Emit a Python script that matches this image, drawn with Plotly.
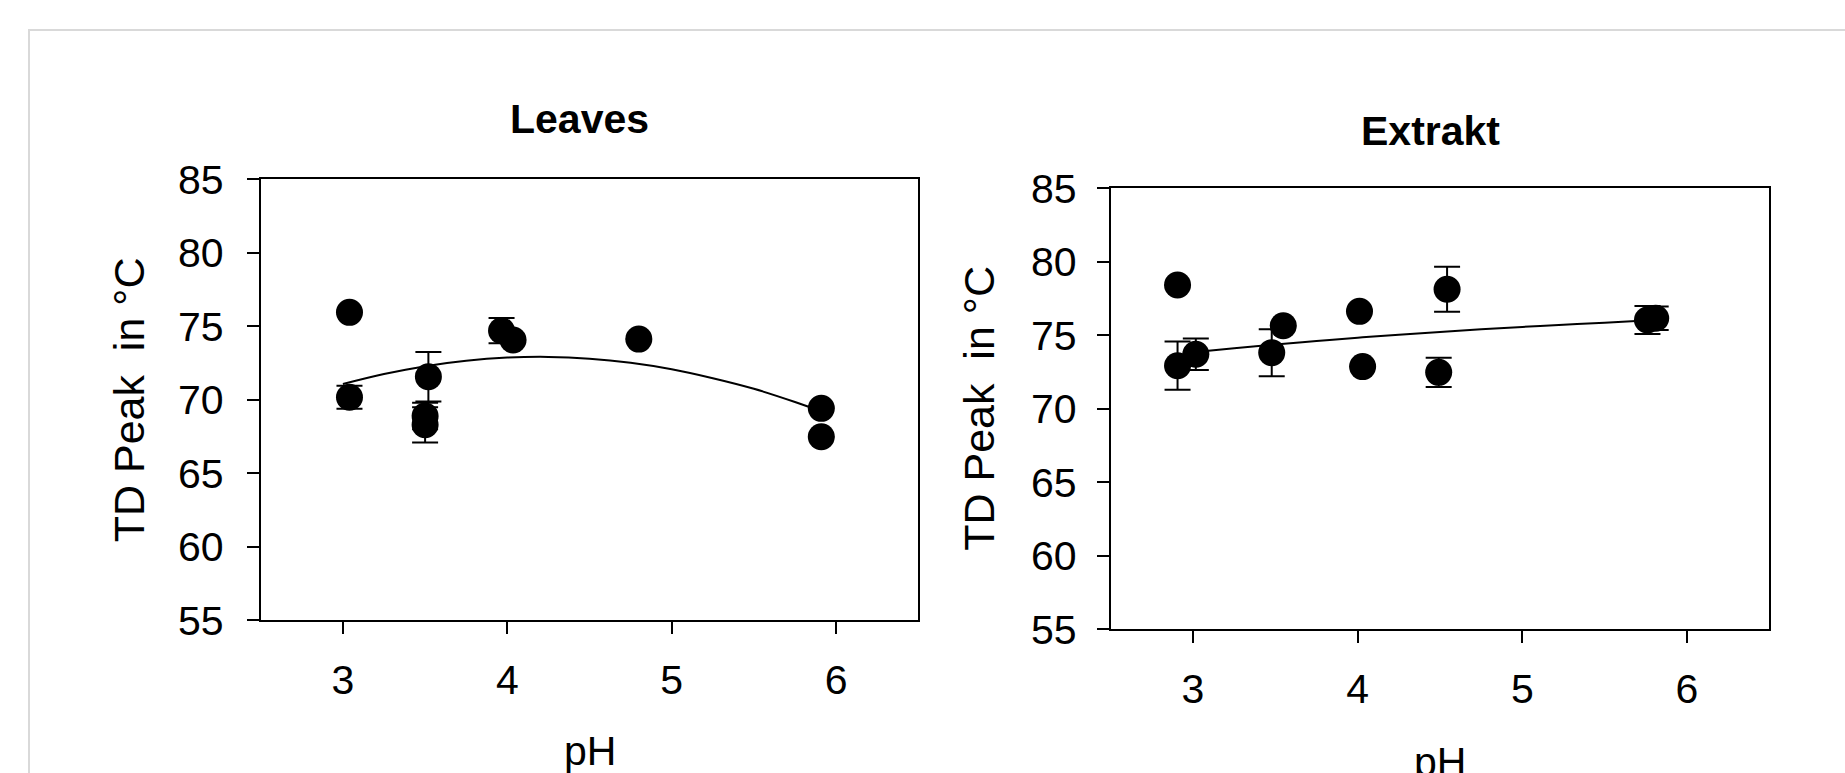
import plotly.graph_objects as go

W, H = 1845, 773

# ---- Leaves data (pH, TD peak °C, error) ----
leaves_ph = [3.04, 3.04, 3.52, 3.50, 3.50, 3.965, 4.035, 4.80, 5.91, 5.91]
leaves_td = [75.95, 70.17, 71.57, 68.9, 68.3, 74.7, 74.07, 74.13, 69.42, 67.49]
leaves_err = [0.0, 0.78, 1.68, 0.9, 1.2, 0.86, 0.0, 0.0, 0.0, 0.0]
leaves_fit_ph = [3.0, 3.25, 3.5, 3.75, 4.0, 4.25, 4.5, 4.75, 5.0, 5.25, 5.5, 5.75, 5.9]
leaves_fit_td = [71.07, 71.75, 72.29, 72.66, 72.87, 72.92, 72.80, 72.52, 72.08, 71.47, 70.75, 69.85, 69.25]

# ---- Extrakt data ----
extr_ph = [2.906, 2.906, 3.017, 3.478, 3.548, 4.011, 4.03, 4.543, 4.492, 5.76, 5.81]
extr_td = [78.42, 72.93, 73.71, 73.82, 75.65, 76.63, 72.87, 78.13, 72.48, 76.04, 76.16]
extr_err = [0.0, 1.64, 1.07, 1.6, 0.0, 0.0, 0.0, 1.53, 0.99, 0.95, 0.8]
extr_fit_ph = [3.0, 3.25, 3.5, 3.75, 4.0, 4.25, 4.5, 4.75, 5.0, 5.25, 5.5, 5.8]
extr_fit_td = [73.84, 74.12, 74.38, 74.61, 74.84, 75.04, 75.23, 75.41, 75.57, 75.72, 75.86, 76.04]

y_ticks = [55, 60, 65, 70, 75, 80, 85]
x_ticks = [3, 4, 5, 6]
titles = ["Leaves", "Extrakt"]
y_title = "TD Peak  in °C"
x_title = "pH"

FONT = "Liberation Sans, Arial, sans-serif"
BLACK = "#000000"


def px_x(v):
    return v / W


def px_y(v):
    return 1 - v / H


fig = go.Figure()


def add_panel(xs, ys, errs, fx, fy, xa, ya):
    fig.add_trace(go.Scatter(
        x=fx, y=fy, mode="lines", line=dict(color=BLACK, width=2, shape="spline"),
        xaxis=xa, yaxis=ya, showlegend=False, hoverinfo="skip"))
    fig.add_trace(go.Scatter(
        x=xs, y=ys, mode="markers",
        marker=dict(color=BLACK, size=27, line=dict(width=0)),
        error_y=dict(type="data", array=errs, visible=True, color=BLACK,
                     thickness=2, width=13),
        xaxis=xa, yaxis=ya, showlegend=False))


add_panel(leaves_ph, leaves_td, leaves_err, leaves_fit_ph, leaves_fit_td, "x", "y")
add_panel(extr_ph, extr_td, extr_err, extr_fit_ph, extr_fit_td, "x2", "y2")

# plot areas in window pixels (left, right, top, bottom)
boxes = [(260.7, 918.3, 179.3, 620.3), (1110.7, 1769.3, 188.3, 629.3)]

axis_common = dict(showline=True, linecolor=BLACK, linewidth=2, mirror=True,
                   ticks="outside", ticklen=12, tickwidth=2, tickcolor=BLACK,
                   showgrid=False, zeroline=False, automargin=False,
                   tickfont=dict(family=FONT, size=41, color=BLACK))

fig.update_layout(
    template="none",
    width=W, height=H,
    margin=dict(l=0, r=0, t=0, b=0, pad=0),
    paper_bgcolor="white", plot_bgcolor="white",
    showlegend=False,
    xaxis=dict(domain=[px_x(boxes[0][0]), px_x(boxes[0][1])], range=[2.5, 6.5],
               tickvals=x_ticks, anchor="y", ticklabelstandoff=10, **axis_common),
    yaxis=dict(domain=[px_y(boxes[0][3]), px_y(boxes[0][2])], range=[55, 85],
               tickvals=y_ticks, anchor="x", ticklabelstandoff=15, **axis_common),
    xaxis2=dict(domain=[px_x(boxes[1][0]), px_x(boxes[1][1])], range=[2.5, 6.5],
                tickvals=x_ticks, anchor="y2", ticklabelstandoff=10, **axis_common),
    yaxis2=dict(domain=[px_y(boxes[1][3]), px_y(boxes[1][2])], range=[55, 85],
                tickvals=y_ticks, anchor="x2", ticklabelstandoff=12, **axis_common),
)

# outer light-grey frame
fig.add_shape(type="rect", xref="paper", yref="paper",
              x0=px_x(29), x1=1.05, y0=-0.05, y1=px_y(30),
              line=dict(color="#d9d9d9", width=2), fillcolor="rgba(0,0,0,0)", layer="below")

# panel titles
title_pos = [(579, 119), (1430, 131)]
for t, (px, py) in zip(titles, title_pos):
    fig.add_annotation(text="<b>%s</b>" % t, xref="paper", yref="paper",
                       x=px_x(px), y=px_y(py), xanchor="center", yanchor="middle",
                       showarrow=False, font=dict(family=FONT, size=41, color=BLACK))

# y-axis titles
for px, b in [(128.5, boxes[0]), (979, boxes[1])]:
    fig.add_annotation(text=y_title, xref="paper", yref="paper",
                       x=px_x(px), y=px_y((b[2] + b[3]) / 2), xanchor="center", yanchor="middle",
                       textangle=-90, showarrow=False,
                       font=dict(family=FONT, size=43, color=BLACK))

# x-axis titles
for px, py in [(589.5, 751), (1440, 762)]:
    fig.add_annotation(text=x_title, xref="paper", yref="paper",
                       x=px_x(px), y=px_y(py), xanchor="center", yanchor="middle",
                       showarrow=False, font=dict(family=FONT, size=41, color=BLACK))

fig.write_html("out.html", config={"displayModeBar": False},
               post_script="document.body.style.margin='0px';")
